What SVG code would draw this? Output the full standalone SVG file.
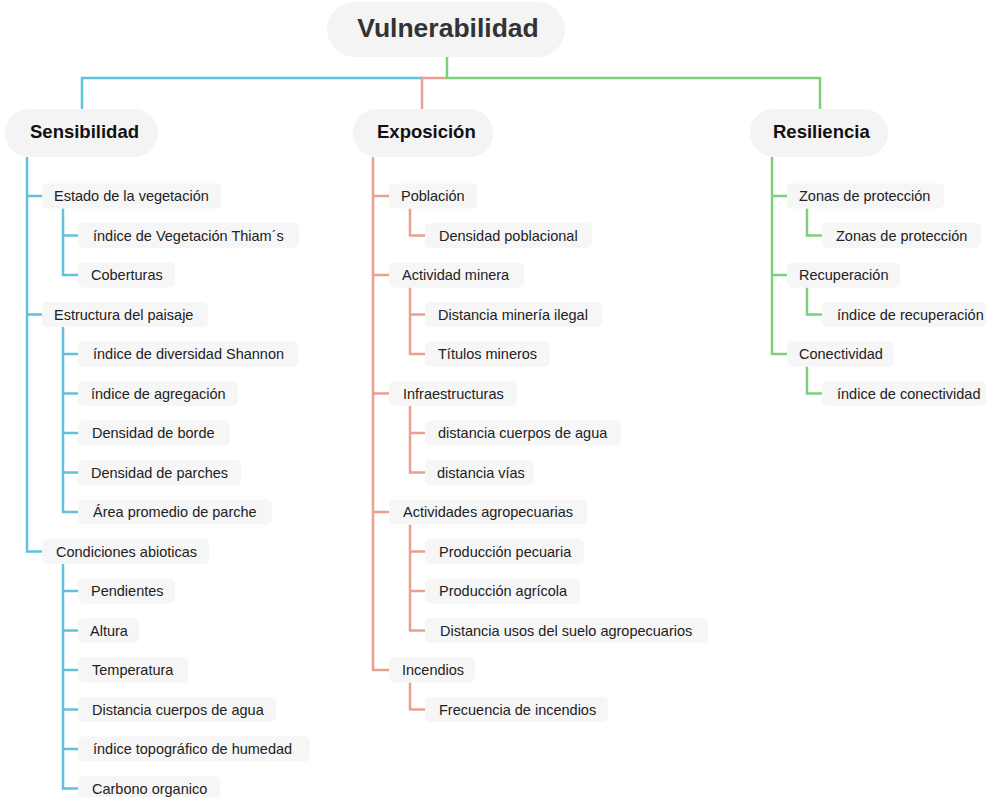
<svg xmlns="http://www.w3.org/2000/svg" width="986" height="797" viewBox="0 0 986 797">
  <style>
    .pill { fill: #f4f4f4; }
    .box { fill: #f6f6f6; }
    .root { font-family: "Liberation Sans", Arial, sans-serif; font-size: 26.5px; font-weight: bold; fill: #333; }
    .l1 { font-family: "Liberation Sans", Arial, sans-serif; font-size: 18.5px; font-weight: bold; fill: #111; }
    .t { font-family: "Liberation Sans", Arial, sans-serif; font-size: 14.5px; fill: #222; }
    .c { fill: none; stroke-width: 2.5; stroke-linejoin: miter; }
    .blue { stroke: #5fc1da; }
    .red { stroke: #eaa091; }
    .green { stroke: #7dcf7d; }
  </style>
  <rect width="986" height="797" fill="#ffffff"/>

  <!-- connectors -->
  <g id="connectors">
    <path class="c blue" d="M422 78 H82 V110"/>
    <path class="c red" d="M447 78 H422 V110"/>
    <path class="c green" d="M447 57 V78 H820 V110"/>

    <!-- Sensibilidad -->
    <path class="c blue" d="M27 157 V551.5 H42 M27 196 H42 M27 314.5 H42"/>
    <path class="c blue" d="M63 208.5 V275 H78 M63 235.5 H78"/>
    <path class="c blue" d="M63 327 V512 H78 M63 354 H78 M63 393.5 H78 M63 433 H78 M63 472.5 H78"/>
    <path class="c blue" d="M63 564 V788.5 H78 M63 591 H78 M63 630.5 H78 M63 670 H78 M63 709.5 H78 M63 749 H78"/>

    <!-- Exposición -->
    <path class="c red" d="M373 157 V670 H389 M373 196 H389 M373 275 H389 M373 393.5 H389 M373 512 H389"/>
    <path class="c red" d="M410 208.5 V235.5 H425"/>
    <path class="c red" d="M410 287.5 V354 H425 M410 314.5 H425"/>
    <path class="c red" d="M410 406 V472.5 H425 M410 433 H425"/>
    <path class="c red" d="M410 524.5 V630.5 H425 M410 551.5 H425 M410 591 H425"/>
    <path class="c red" d="M410 682.5 V709.5 H425"/>

    <!-- Resiliencia -->
    <path class="c green" d="M772 157 V354 H787 M772 196 H787 M772 275 H787"/>
    <path class="c green" d="M807 208.5 V235.5 H822"/>
    <path class="c green" d="M807 287.5 V314.5 H822"/>
    <path class="c green" d="M807 366.5 V393.5 H822"/>
  </g>

  <!-- root -->
  <g id="vulnerabilidad">
    <rect class="pill" x="327" y="2" width="238" height="55" rx="27.5"/>
    <text class="root" x="448" y="37" text-anchor="middle">Vulnerabilidad</text>
  </g>

  <!-- Sensibilidad branch -->
  <g id="sensibilidad">
    <rect class="pill" x="5" y="109" width="153" height="48" rx="24"/>
    <text class="l1" x="30" y="137.5">Sensibilidad</text>
  </g>
  <g id="estado-vegetacion">
    <rect class="box" x="42" y="183.5" width="179" height="25" rx="5"/>
    <text class="t" x="54" y="201">Estado de la vegetación</text>
  </g>
  <g id="indice-vegetacion">
    <rect class="box" x="78" y="223" width="221" height="25" rx="5"/>
    <text class="t" x="93" y="240.5">índice de Vegetación Thiam´s</text>
  </g>
  <g id="coberturas">
    <rect class="box" x="78" y="262.5" width="97" height="25" rx="5"/>
    <text class="t" x="91" y="280">Coberturas</text>
  </g>
  <g id="estructura-paisaje">
    <rect class="box" x="42" y="302" width="166" height="25" rx="5"/>
    <text class="t" x="54" y="319.5">Estructura del paisaje</text>
  </g>
  <g id="indice-shannon">
    <rect class="box" x="78" y="341.5" width="220" height="25" rx="5"/>
    <text class="t" x="93" y="359">índice de diversidad Shannon</text>
  </g>
  <g id="indice-agregacion">
    <rect class="box" x="78" y="381" width="160" height="25" rx="5"/>
    <text class="t" x="91" y="398.5">índice de agregación</text>
  </g>
  <g id="densidad-borde">
    <rect class="box" x="78" y="420.5" width="152" height="25" rx="5"/>
    <text class="t" x="92" y="438">Densidad de borde</text>
  </g>
  <g id="densidad-parches">
    <rect class="box" x="78" y="460" width="163" height="25" rx="5"/>
    <text class="t" x="91" y="477.5">Densidad de parches</text>
  </g>
  <g id="area-promedio">
    <rect class="box" x="78" y="499.5" width="194" height="25" rx="5"/>
    <text class="t" x="93" y="517">Área promedio de parche</text>
  </g>
  <g id="condiciones-abioticas">
    <rect class="box" x="42" y="539" width="167" height="25" rx="5"/>
    <text class="t" x="56" y="556.5">Condiciones abioticas</text>
  </g>
  <g id="pendientes">
    <rect class="box" x="78" y="578.5" width="97" height="25" rx="5"/>
    <text class="t" x="91" y="596">Pendientes</text>
  </g>
  <g id="altura">
    <rect class="box" x="78" y="618" width="61" height="25" rx="5"/>
    <text class="t" x="90" y="635.5">Altura</text>
  </g>
  <g id="temperatura">
    <rect class="box" x="78" y="657.5" width="110" height="25" rx="5"/>
    <text class="t" x="92" y="675">Temperatura</text>
  </g>
  <g id="distancia-agua-s">
    <rect class="box" x="78" y="697" width="198" height="25" rx="5"/>
    <text class="t" x="92" y="714.5">Distancia cuerpos de agua</text>
  </g>
  <g id="indice-topografico">
    <rect class="box" x="78" y="736.5" width="232" height="25" rx="5"/>
    <text class="t" x="93" y="754">índice topográfico de humedad</text>
  </g>
  <g id="carbono-organico">
    <rect class="box" x="78" y="776" width="142" height="25" rx="5"/>
    <text class="t" x="92" y="793.5">Carbono organico</text>
  </g>

  <!-- Exposición branch -->
  <g id="exposicion">
    <rect class="pill" x="353" y="109" width="140" height="48" rx="24"/>
    <text class="l1" x="377" y="137.5">Exposición</text>
  </g>
  <g id="poblacion">
    <rect class="box" x="389" y="183.5" width="88" height="25" rx="5"/>
    <text class="t" x="401" y="201">Población</text>
  </g>
  <g id="densidad-poblacional">
    <rect class="box" x="425" y="223" width="167" height="25" rx="5"/>
    <text class="t" x="439" y="240.5">Densidad poblacional</text>
  </g>
  <g id="actividad-minera">
    <rect class="box" x="389" y="262.5" width="135" height="25" rx="5"/>
    <text class="t" x="402" y="280">Actividad minera</text>
  </g>
  <g id="distancia-mineria">
    <rect class="box" x="425" y="302" width="177" height="25" rx="5"/>
    <text class="t" x="438" y="319.5">Distancia minería ilegal</text>
  </g>
  <g id="titulos-mineros">
    <rect class="box" x="425" y="341.5" width="125" height="25" rx="5"/>
    <text class="t" x="438" y="359">Títulos mineros</text>
  </g>
  <g id="infraestructuras">
    <rect class="box" x="389" y="381" width="128" height="25" rx="5"/>
    <text class="t" x="403" y="398.5">Infraestructuras</text>
  </g>
  <g id="distancia-agua-e">
    <rect class="box" x="425" y="420.5" width="196" height="25" rx="5"/>
    <text class="t" x="438" y="438">distancia cuerpos de agua</text>
  </g>
  <g id="distancia-vias">
    <rect class="box" x="425" y="460" width="109" height="25" rx="5"/>
    <text class="t" x="437" y="477.5">distancia vías</text>
  </g>
  <g id="actividades-agropecuarias">
    <rect class="box" x="389" y="499.5" width="198" height="25" rx="5"/>
    <text class="t" x="403" y="517">Actividades agropecuarias</text>
  </g>
  <g id="produccion-pecuaria">
    <rect class="box" x="425" y="539" width="159" height="25" rx="5"/>
    <text class="t" x="439" y="556.5">Producción pecuaria</text>
  </g>
  <g id="produccion-agricola">
    <rect class="box" x="425" y="578.5" width="155" height="25" rx="5"/>
    <text class="t" x="439" y="596">Producción agrícola</text>
  </g>
  <g id="distancia-usos">
    <rect class="box" x="425" y="618" width="283" height="25" rx="5"/>
    <text class="t" x="440" y="635.5">Distancia usos del suelo agropecuarios</text>
  </g>
  <g id="incendios">
    <rect class="box" x="389" y="657.5" width="86" height="25" rx="5"/>
    <text class="t" x="402" y="675">Incendios</text>
  </g>
  <g id="frecuencia-incendios">
    <rect class="box" x="425" y="697" width="183" height="25" rx="5"/>
    <text class="t" x="439" y="714.5">Frecuencia de incendios</text>
  </g>

  <!-- Resiliencia branch -->
  <g id="resiliencia">
    <rect class="pill" x="750" y="109" width="138" height="48" rx="24"/>
    <text class="l1" x="773" y="137.5">Resiliencia</text>
  </g>
  <g id="zonas-proteccion">
    <rect class="box" x="787" y="183.5" width="157" height="25" rx="5"/>
    <text class="t" x="799" y="201">Zonas de protección</text>
  </g>
  <g id="zonas-proteccion-2">
    <rect class="box" x="822" y="223" width="159" height="25" rx="5"/>
    <text class="t" x="836" y="240.5">Zonas de protección</text>
  </g>
  <g id="recuperacion">
    <rect class="box" x="787" y="262.5" width="113" height="25" rx="5"/>
    <text class="t" x="799" y="280">Recuperación</text>
  </g>
  <g id="indice-recuperacion">
    <rect class="box" x="822" y="302" width="164" height="25" rx="5"/>
    <text class="t" x="837" y="319.5">índice de recuperación</text>
  </g>
  <g id="conectividad">
    <rect class="box" x="787" y="341.5" width="107" height="25" rx="5"/>
    <text class="t" x="799" y="359">Conectividad</text>
  </g>
  <g id="indice-conectividad">
    <rect class="box" x="822" y="381" width="164" height="25" rx="5"/>
    <text class="t" x="837" y="398.5">índice de conectividad</text>
  </g>
</svg>
